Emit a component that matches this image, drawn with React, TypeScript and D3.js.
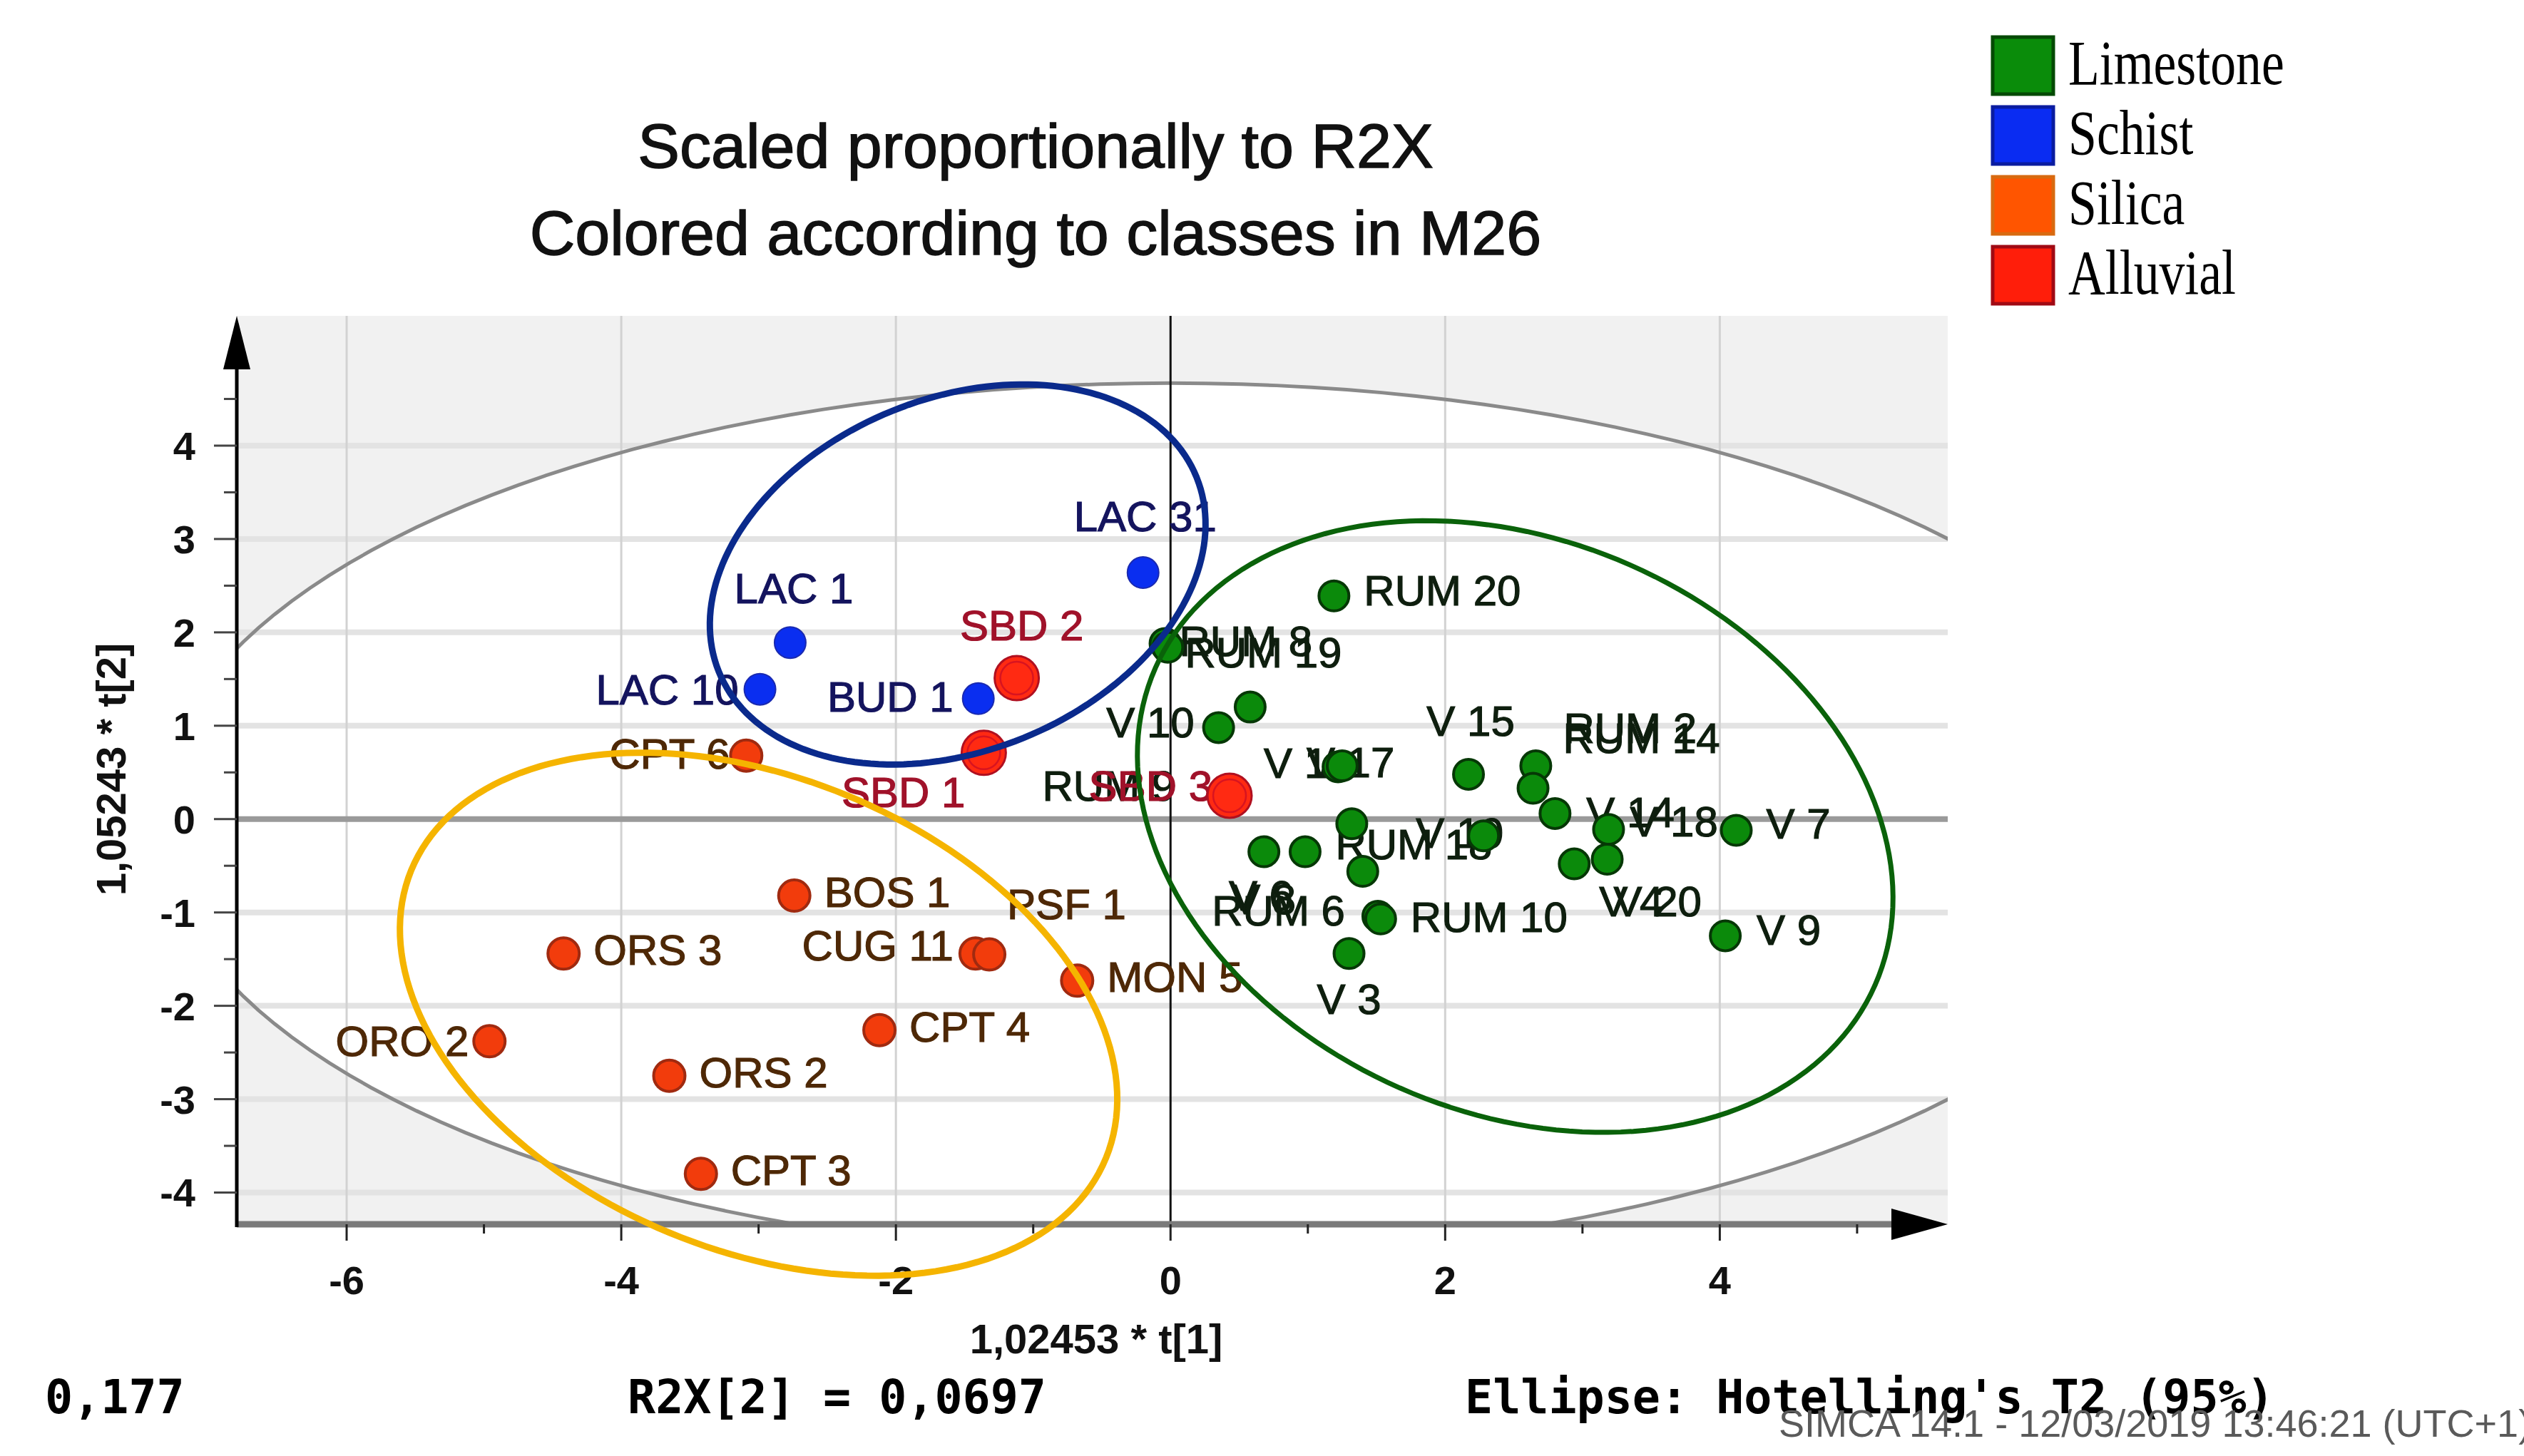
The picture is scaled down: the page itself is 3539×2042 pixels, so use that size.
import React from 'react';
import * as d3 from 'd3';

// score values t[1], t[2] per class
const limestone: [string, number, number][] = [
  ['RUM 20', 1.19, 2.39],
  ['RUM 8', -0.04, 1.88],
  ['RUM 19', -0.02, 1.84],
  ['V 10', 0.35, 0.98],
  ['V 2', 0.58, 1.2],
  ['V 1', 1.22, 0.56],
  ['V 17', 1.25, 0.57],
  ['V 15', 2.17, 0.48],
  ['RUM 2', 2.66, 0.57],
  ['RUM 14', 2.64, 0.33],
  ['V 14', 2.8, 0.06],
  ['V 18', 3.19, -0.11],
  ['V 7', 4.12, -0.12],
  ['V 20', 3.18, -0.43],
  ['V 4', 2.94, -0.48],
  ['V 9', 4.04, -1.25],
  ['RUM 18', 1.32, -0.05],
  ['V 19', 2.28, -0.18],
  ['V 12', 1.4, -0.56],
  ['V 8', 0.68, -0.35],
  ['V 6', 0.98, -0.35],
  ['RUM 6', 1.51, -1.04],
  ['RUM 10', 1.53, -1.07],
  ['V 3', 1.3, -1.44],
  ['RUM 9', 0.41, 0.26],
];

const schist: [string, number, number][] = [
  ['LAC 1', -2.77, 1.89],
  ['LAC 10', -2.99, 1.39],
  ['BUD 1', -1.4, 1.29],
  ['LAC 31', -0.2, 2.64],
];

const silica: [string, number, number][] = [
  ['CPT 6', -3.09, 0.68],
  ['BOS 1', -2.74, -0.82],
  ['ORS 3', -4.42, -1.44],
  ['CUG 11', -1.42, -1.44],
  ['PSF 1', -1.32, -1.45],
  ['MON 5', -0.68, -1.73],
  ['CPT 4', -2.12, -2.26],
  ['ORO 2', -4.96, -2.38],
  ['ORS 2', -3.65, -2.75],
  ['CPT 3', -3.42, -3.8],
];

const alluvial: [string, number, number][] = [
  ['SBD 2', -1.12, 1.51],
  ['SBD 1', -1.36, 0.71],
  ['SBD 3', 0.43, 0.25],
];

const classNames = ['Limestone', 'Schist', 'Silica', 'Alluvial'];

const xMajor = [-6, -4, -2, 0, 2, 4];
const xMinor = [-5, -3, -1, 1, 3, 5];
const yMajor = [-4, -3, -2, -1, 0, 1, 2, 3, 4];
const yMinor = [-3.5, -2.5, -1.5, -0.5, 0.5, 1.5, 2.5, 3.5, 4.5];

// Hotelling T2 (95%) semi-axes
const hotelling = { a: 7.39, b: 4.67 };

// hand drawn class ellipses: centre and two half-axis vectors, in score units
const classEllipses = [
  { cls: 'Schist', c: [-1.55, 2.62], u: [1.74, 1.04], v: [0.48, -1.75] },
  { cls: 'Silica', c: [-3.0, -2.09], u: [2.53, -1.54], v: [-0.65, -2.34] },
  { cls: 'Limestone', c: [2.51, -0.08], u: [2.62, -1.7], v: [-0.84, -2.8] },
];

const fill: Record<string, string> = {
  Limestone: '#0b8a0b',
  Schist: '#0a2ef0',
  Silica: '#f23c0c',
  Alluvial: '#ff2a12',
};
const edge: Record<string, string> = {
  Limestone: '#063806',
  Schist: '#1a2ab0',
  Silica: '#a02a10',
  Alluvial: '#b01020',
};
const labelInk: Record<string, string> = {
  Limestone: '#0e1e0e',
  Schist: '#14145e',
  Silica: '#4e2806',
  Alluvial: '#a0122a',
};
const ringInk: Record<string, string> = {
  Limestone: '#0a620a',
  Schist: '#0a2a8c',
  Silica: '#f5b400',
};
const legendFill: Record<string, string> = {
  Limestone: '#0a8c0a',
  Schist: '#0a2cf2',
  Silica: '#ff5500',
  Alluvial: '#ff1e0a',
};
const legendEdge: Record<string, string> = {
  Limestone: '#054a05',
  Schist: '#0a1ca0',
  Silica: '#d86a10',
  Alluvial: '#a00a14',
};

// label placement relative to the point: dx, dy, anchor (null = label hidden)
const labelAt: Record<string, [number, number, string] | null> = {
  'RUM 20': [42, 13, 'start'],
  'RUM 8': [20, 17, 'start'],
  'RUM 19': [24, 28, 'start'],
  'V 10': [-34, 14, 'end'],
  'V 2': null,
  'V 1': [-14, 16, 'end'],
  'V 17': [-50, 16, 'start'],
  'V 15': [3, -54, 'middle'],
  'RUM 2': [39, -32, 'start'],
  'RUM 14': [42, -50, 'start'],
  'V 14': [44, 19, 'start'],
  'V 18': [30, 10, 'start'],
  'V 7': [42, 12, 'start'],
  'V 9': [44, 13, 'start'],
  'V 20': [9, 80, 'start'],
  'V 4': [35, 73, 'start'],
  'RUM 18': [-23, 50, 'start'],
  'V 19': [-95, 17, 'start'],
  'V 12': null,
  'V 8': [0, 87, 'middle'],
  'V 6': [-62, 82, 'middle'],
  'RUM 6': [-46, 13, 'end'],
  'RUM 10': [42, 18, 'start'],
  'V 3': [0, 85, 'middle'],
  'RUM 9': [-72, 8, 'end'],
  'LAC 1': [5, -55, 'middle'],
  'LAC 10': [-30, 21, 'end'],
  'BUD 1': [-35, 18, 'end'],
  'LAC 31': [3, -58, 'middle'],
  'SBD 2': [7, -53, 'middle'],
  'SBD 1': [-26, 76, 'end'],
  'SBD 3': [-24, 7, 'end'],
  'CPT 6': [-23, 18, 'end'],
  'CUG 11': [-31, 10, 'end'],
  'PSF 1': [25, -50, 'start'],
  'ORO 2': [-29, 21, 'end'],
};

const W = 3539;
const H = 2042;
const SANS = '"Liberation Sans", Arial, sans-serif';
const MONO = '"DejaVu Sans Mono", "Liberation Mono", monospace';

export default function App() {
  const left = 332;
  const right = 2731;
  const top = 443;
  const bottom = 1717;

  const x = d3.scaleLinear().domain([-6.8, 5.66]).range([left, right]);
  const y = d3.scaleLinear().domain([-4.34, 5.39]).range([bottom, top]);

  const ellipsePath = (c: number[], u: number[], v: number[]) => {
    const pts = d3.range(0, 360, 2).map((deg) => {
      const t = (deg * Math.PI) / 180;
      return [
        x(c[0] + u[0] * Math.cos(t) + v[0] * Math.sin(t)),
        y(c[1] + u[1] * Math.cos(t) + v[1] * Math.sin(t)),
      ] as [number, number];
    });
    return d3.line()(pts) + 'Z';
  };
  const hotPath = ellipsePath([0, 0], [hotelling.a, 0], [0, hotelling.b]);

  const groups: [string, [string, number, number][]][] = [
    ['Limestone', limestone],
    ['Silica', silica],
    ['Schist', schist],
    ['Alluvial', alluvial],
  ];

  return (
    <svg
      width={W}
      height={H}
      style={{ position: 'absolute', left: 0, top: 0, background: '#fff' }}
    >
      <defs>
        <clipPath id="plotClip">
          <rect x={left} y={top} width={right - left} height={bottom - top} />
        </clipPath>
      </defs>

      {/* plot background + Hotelling region */}
      <rect x={left} y={top} width={right - left} height={bottom - top} fill="#f1f1f1" />
      <g clipPath="url(#plotClip)">
        <path d={hotPath} fill="#ffffff" />
        {yMajor
          .filter((v) => v !== 0)
          .map((v) => (
            <line key={'gy' + v} x1={left} x2={right} y1={y(v)} y2={y(v)} stroke="#e3e3e3" strokeWidth={8} />
          ))}
        {xMajor
          .filter((v) => v !== 0)
          .map((v) => (
            <line key={'gx' + v} x1={x(v)} x2={x(v)} y1={top} y2={bottom} stroke="#d2d2d2" strokeWidth={3} />
          ))}
        <path d={hotPath} fill="none" stroke="#8a8a8a" strokeWidth={5} />
        <line x1={left} x2={right} y1={y(0)} y2={y(0)} stroke="#9a9a9a" strokeWidth={8} />
        <line x1={x(0)} x2={x(0)} y1={top} y2={bottom} stroke="#111" strokeWidth={3} />
      </g>

      {/* axes */}
      <line x1={left} x2={2660} y1={bottom} y2={bottom} stroke="#7a7a7a" strokeWidth={9} />
      <path d={`M${right},${bottom} L2652,${bottom - 22} L2652,${bottom + 22} Z`} fill="#000" />
      <line x1={left} x2={left} y1={bottom + 4} y2={top + 40} stroke="#000" strokeWidth={5} />
      <path d={`M${left},${top} L${left - 19},${top + 75} L${left + 19},${top + 75} Z`} fill="#000" />

      {xMajor.map((v) => (
        <g key={'xt' + v}>
          <line x1={x(v)} x2={x(v)} y1={bottom} y2={bottom + 23} stroke="#222" strokeWidth={3} />
          <text
            x={x(v)}
            y={1815}
            textAnchor="middle"
            fontFamily={SANS}
            fontWeight="bold"
            fontSize={56}
            fill="#111"
          >
            {v}
          </text>
        </g>
      ))}
      {xMinor.map((v) => (
        <line key={'xm' + v} x1={x(v)} x2={x(v)} y1={bottom} y2={bottom + 13} stroke="#222" strokeWidth={3} />
      ))}
      {yMajor.map((v) => (
        <g key={'yt' + v}>
          <line x1={left - 32} x2={left} y1={y(v)} y2={y(v)} stroke="#444" strokeWidth={3} />
          <text
            x={274}
            y={y(v) + 20}
            textAnchor="end"
            fontFamily={SANS}
            fontWeight="bold"
            fontSize={56}
            fill="#111"
          >
            {v}
          </text>
        </g>
      ))}
      {yMinor
        .filter((v) => y(v) >= top + 60)
        .map((v) => (
          <line key={'ym' + v} x1={left - 18} x2={left} y1={y(v)} y2={y(v)} stroke="#444" strokeWidth={3} />
        ))}

      <text
        transform="translate(176,1079) rotate(-90)"
        textAnchor="middle"
        fontFamily={SANS}
        fontWeight="bold"
        fontSize={58}
        fill="#111"
      >
        1,05243 * t[2]
      </text>
      <text x={1537} y={1898} textAnchor="middle" fontFamily={SANS} fontWeight="bold" fontSize={58} fill="#111">
        1,02453 * t[1]
      </text>

      {/* observation labels */}
      {groups.map(([cls, rows]) =>
        rows.map(([name, t1, t2]) => {
          const p = labelAt[name] === undefined ? [42, 16, 'start'] : labelAt[name];
          if (!p) return null;
          return (
            <text
              key={'lb' + name}
              x={x(t1) + (p[0] as number)}
              y={y(t2) + (p[1] as number)}
              textAnchor={p[2] as any}
              fontFamily={SANS}
              fontSize={60}
              fill={labelInk[cls]}
              stroke={labelInk[cls]}
              strokeWidth={1.2}
            >
              {name}
            </text>
          );
        })
      )}

      {/* observation points */}
      {groups.map(([cls, rows]) =>
        rows.map(([name, t1, t2]) =>
          cls === 'Alluvial' ? (
            <g key={'pt' + name}>
              <circle cx={x(t1)} cy={y(t2)} r={31} fill={fill[cls]} stroke={edge[cls]} strokeWidth={3} />
              <circle cx={x(t1)} cy={y(t2)} r={23} fill="none" stroke="#d81420" strokeWidth={2.5} />
            </g>
          ) : (
            <circle
              key={'pt' + name}
              cx={x(t1)}
              cy={y(t2)}
              r={cls === 'Limestone' ? 21 : 22}
              fill={fill[cls]}
              stroke={edge[cls]}
              strokeWidth={cls === 'Schist' ? 2 : 4}
            />
          )
        )
      )}

      {/* class ellipses */}
      {classEllipses.map((e) => (
        <path
          key={'el' + e.cls}
          d={ellipsePath(e.c, e.u, e.v)}
          fill="none"
          stroke={ringInk[e.cls]}
          strokeWidth={e.cls === 'Limestone' ? 7 : 9}
        />
      ))}

      {/* title */}
      <text x={1452} y={235} textAnchor="middle" fontFamily={SANS} fontSize={88} fill="#111" stroke="#111" strokeWidth={1.5}>
        Scaled proportionally to R2X
      </text>
      <text x={1452} y={357} textAnchor="middle" fontFamily={SANS} fontSize={88} fill="#111" stroke="#111" strokeWidth={1.5}>
        Colored according to classes in M26
      </text>

      {/* legend */}
      {classNames.map((c, i) => (
        <g key={'lg' + c} transform={`translate(2794,${52 + i * 98})`}>
          <rect x={0} y={0} width={85} height={80} fill={legendFill[c]} stroke={legendEdge[c]} strokeWidth={5} />
          <text
            transform="translate(106,66) scale(0.815,1)"
            fontFamily='"Liberation Serif", "Times New Roman", serif'
            fontSize={88}
            fill="#000"
          >
            {c}
          </text>
        </g>
      ))}

      {/* footer */}
      <text x={63} y={1982} fontFamily={MONO} fontWeight="bold" fontSize={65} fill="#000">
        0,177
      </text>
      <text x={880} y={1982} fontFamily={MONO} fontWeight="bold" fontSize={65} fill="#000">
        R2X[2] = 0,0697
      </text>
      <text x={2054} y={1982} fontFamily={MONO} fontWeight="bold" fontSize={65} fill="#000">
        Ellipse: Hotelling's T2 (95%)
      </text>
      <text x={2494} y={2015} fontFamily={SANS} fontSize={54} fill="#5a5a5a">
        SIMCA 14.1 - 12/03/2019 13:46:21 (UTC+1)
      </text>
    </svg>
  );
}
